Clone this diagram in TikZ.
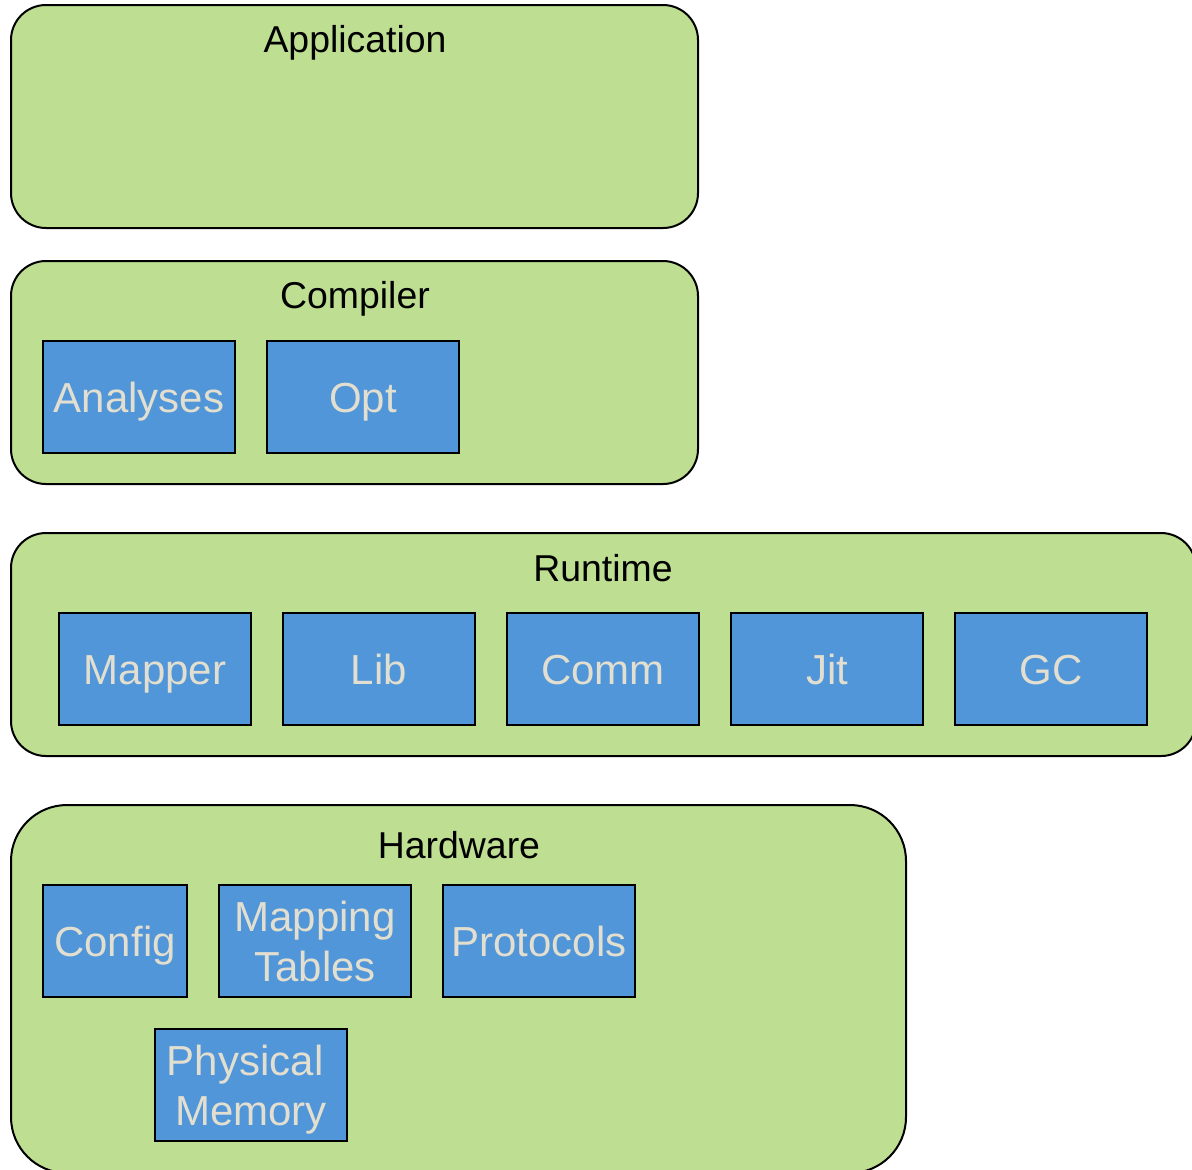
\documentclass[tikz,border=0pt]{standalone}
\usepackage{fontspec}
\setmainfont{Liberation Sans}
\definecolor{layergreen}{RGB}{190,222,146}
\definecolor{partblue}{RGB}{80,150,216}
\definecolor{parttext}{RGB}{226,222,208}
\begin{document}
\begin{tikzpicture}[x=0.5pt,y=-0.5pt,
  layer/.style={draw=black,line width=1pt,fill=layergreen,rounded corners=17.5pt},
  layertitle/.style={font=\fontsize{18.7}{22}\selectfont,text=black,inner sep=0pt,
    text height=13.4pt,text depth=0pt},
  part/.style={draw=black,line width=1pt,fill=partblue,minimum width=96pt,minimum height=56pt,
    inner sep=0pt,align=center,text=parttext,font=\fontsize{21}{25}\selectfont,
    text height=15.04pt,text depth=0pt},
  twoline/.style={text height=40.04pt}]
\useasboundingbox (0,0) rectangle (1192,1169);
% layers
\draw[layer] (11,5) rectangle (698,228);
\node[layertitle] (app) at (355,39.5) {Application};
\draw[layer] (11,261) rectangle (698,484);
\node[layertitle] (comp) at (355,295.5) {Compiler};
\draw[layer] (11,533) rectangle (1196,756);
\node[layertitle] (rt) at (603,568.5) {Runtime};
\draw[layer,rounded corners=28pt] (11,805) rectangle (906,1173);
\node[layertitle] (hw) at (459,845.5) {Hardware};
% compiler parts
\node[part] (analyses) at (139,397) {Analyses};
\node[part] (opt) at (363,397) {Opt};
% runtime parts
\node[part] (mapper) at (155,669) {Mapper};
\node[part] (lib) at (379,669) {Lib};
\node[part] (comm) at (603,669) {Comm};
\node[part] (jit) at (827,669) {Jit};
\node[part] (gc) at (1051,669) {GC};
% hardware parts
\node[part,minimum width=72pt] (config) at (115,941) {Config};
\node[part,twoline] (maptab) at (315,941) {Mapping\\Tables};
\node[part] (proto) at (539,941) {Protocols};
\node[part,twoline] (phys) at (251,1085) {Physical\hspace*{0.278em}\\Memory};
\end{tikzpicture}
\end{document}
